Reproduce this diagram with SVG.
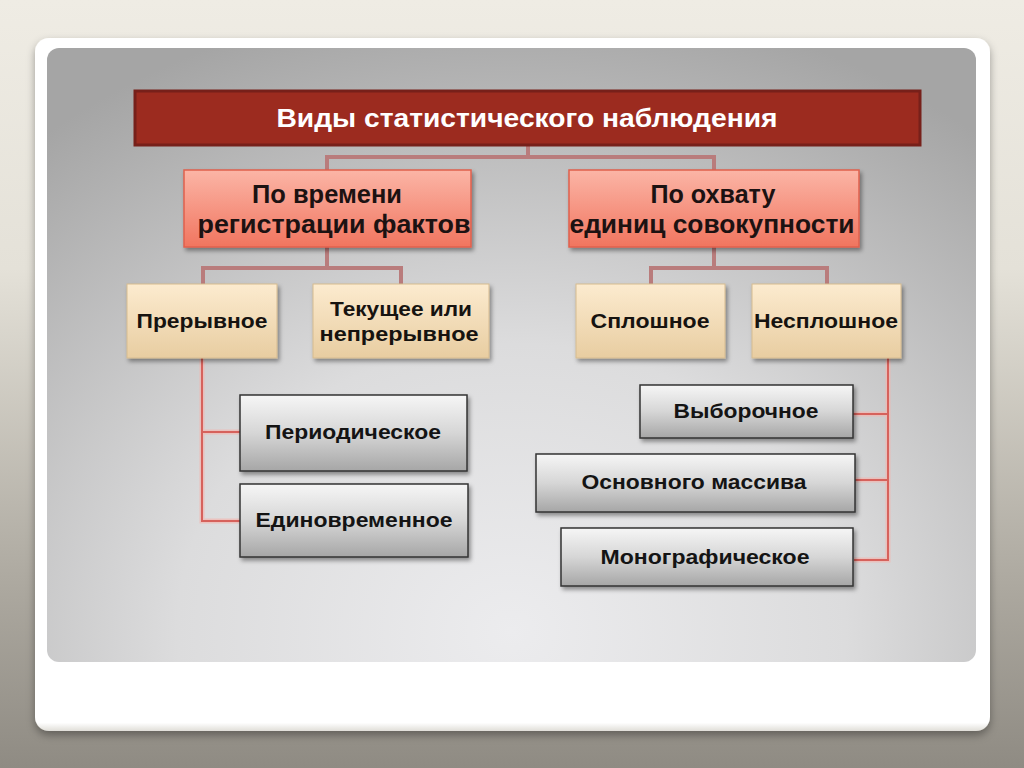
<svg xmlns="http://www.w3.org/2000/svg" width="1024" height="768" viewBox="0 0 1024 768">
<defs>
<linearGradient id="bg" x1="0" y1="0" x2="0" y2="1">
<stop offset="0" stop-color="#efece4"/>
<stop offset="0.35" stop-color="#e4e1d8"/>
<stop offset="0.75" stop-color="#aeaaa1"/>
<stop offset="1" stop-color="#8f8b83"/>
</linearGradient>
<radialGradient id="panel" cx="0.5" cy="0.95" r="0.8" gradientTransform="translate(0.5 0.95) scale(1 1.3) translate(-0.5 -0.95)">
<stop offset="0" stop-color="#ececee"/>
<stop offset="0.45" stop-color="#dcdcdd"/>
<stop offset="1" stop-color="#a5a5a5"/>
</radialGradient>
<linearGradient id="g2" x1="0" y1="0" x2="0" y2="1">
<stop offset="0" stop-color="#fbb5a6"/>
<stop offset="1" stop-color="#f1755f"/>
</linearGradient>
<linearGradient id="g3" x1="0" y1="0" x2="0" y2="1">
<stop offset="0" stop-color="#fcebcf"/>
<stop offset="1" stop-color="#e8cda1"/>
</linearGradient>
<linearGradient id="g4" x1="0" y1="0" x2="0" y2="1">
<stop offset="0" stop-color="#f6f6f6"/>
<stop offset="0.5" stop-color="#d6d6d6"/>
<stop offset="1" stop-color="#a6a6a6"/>
</linearGradient>
<linearGradient id="cardedge" x1="0" y1="0" x2="0" y2="1">
<stop offset="0" stop-color="#ffffff"/>
<stop offset="0.988" stop-color="#ffffff"/>
<stop offset="1" stop-color="#e0ded8"/>
</linearGradient>
<filter id="sh" x="-10%" y="-10%" width="125%" height="135%">
<feDropShadow dx="2" dy="3" stdDeviation="2" flood-color="#000" flood-opacity="0.4"/>
</filter>
<filter id="cardsh" x="-5%" y="-5%" width="110%" height="112%">
<feDropShadow dx="0" dy="4" stdDeviation="4" flood-color="#000" flood-opacity="0.35"/>
</filter>
</defs>
<style>
text{font-family:"Liberation Sans",Arial,sans-serif;font-weight:bold;text-anchor:middle;}
.t1{fill:#ffffff;font-size:26px;}
.t2{fill:#1c1212;font-size:25px;}
.t3{fill:#161310;font-size:20px;}
.t4{fill:#141414;font-size:20px;}
.b2{fill:url(#g2);stroke:#e0604c;stroke-width:1.5;filter:url(#sh);}
.b3{fill:url(#g3);stroke:#d6bb90;stroke-width:1;filter:url(#sh);}
.b4{fill:url(#g4);stroke:#333333;stroke-width:1.5;filter:url(#sh);}
.c1{fill:none;stroke:#b97c7c;stroke-width:4;}
.c2h{fill:none;stroke:#f2b7b0;stroke-width:5;opacity:0.7;}
.c2{fill:none;stroke:#d6625c;stroke-width:2;}
</style>
<rect x="0" y="0" width="1024" height="768" fill="url(#bg)"/>
<rect x="35" y="38" width="955" height="693" rx="14" fill="url(#cardedge)" filter="url(#cardsh)"/>
<rect x="47" y="48" width="929" height="614" rx="12" fill="url(#panel)"/>

<g id="connectors">
<path class="c1" d="M528 146 V157 M327 170 V157 H714 V170"/>
<path class="c1" d="M327 247 V268 M203 284 V268 H401 V284"/>
<path class="c1" d="M714 247 V268 M651 284 V268 H827 V284"/>
<path class="c2h" d="M202 358 V521 H240 M202 432 H240"/>
<path class="c2" d="M202 358 V521 H240 M202 432 H240"/>
<path class="c2h" d="M888 358 V560 H854 M888 414 H853 M888 480 H855"/>
<path class="c2" d="M888 358 V560 H854 M888 414 H853 M888 480 H855"/>
</g>

<g id="title">
<rect x="135" y="91" width="785" height="54" fill="#9c2b1f" stroke="#77201a" stroke-width="3"/>
<text class="t1" x="527" y="127" textLength="501" lengthAdjust="spacingAndGlyphs">Виды статистического наблюдения</text>
</g>

<g id="by-time">
<rect class="b2" x="184" y="170" width="287" height="77"/>
<text class="t2" x="327" y="203" textLength="150" lengthAdjust="spacingAndGlyphs">По времени</text>
<text class="t2" x="334" y="233" textLength="273" lengthAdjust="spacingAndGlyphs">регистрации фактов</text>
</g>

<g id="by-coverage">
<rect class="b2" x="569" y="170" width="290" height="77"/>
<text class="t2" x="713" y="203" textLength="125" lengthAdjust="spacingAndGlyphs">По охвату</text>
<text class="t2" x="712" y="233" textLength="285" lengthAdjust="spacingAndGlyphs">единиц совокупности</text>
</g>

<g id="discontinuous">
<rect class="b3" x="127" y="284" width="150" height="74"/>
<text class="t3" x="202" y="328" textLength="131" lengthAdjust="spacingAndGlyphs">Прерывное</text>
</g>

<g id="continuous">
<rect class="b3" x="313" y="284" width="176" height="74"/>
<text class="t3" x="401" y="316" textLength="142" lengthAdjust="spacingAndGlyphs">Текущее или</text>
<text class="t3" x="399" y="341" textLength="159" lengthAdjust="spacingAndGlyphs">непрерывное</text>
</g>

<g id="complete">
<rect class="b3" x="576" y="284" width="149" height="74"/>
<text class="t3" x="650" y="328" textLength="119" lengthAdjust="spacingAndGlyphs">Сплошное</text>
</g>

<g id="incomplete">
<rect class="b3" x="752" y="284" width="149" height="74"/>
<text class="t3" x="826" y="328" textLength="144" lengthAdjust="spacingAndGlyphs">Несплошное</text>
</g>

<g id="periodic">
<rect class="b4" x="240" y="395" width="227" height="76"/>
<text class="t4" x="353" y="439" textLength="176" lengthAdjust="spacingAndGlyphs">Периодическое</text>
</g>

<g id="one-time">
<rect class="b4" x="240" y="484" width="228" height="73"/>
<text class="t4" x="354" y="527" textLength="197" lengthAdjust="spacingAndGlyphs">Единовременное</text>
</g>

<g id="sample">
<rect class="b4" x="640" y="385" width="213" height="53"/>
<text class="t4" x="746" y="418" textLength="145" lengthAdjust="spacingAndGlyphs">Выборочное</text>
</g>

<g id="main-array">
<rect class="b4" x="536" y="454" width="319" height="58"/>
<text class="t4" x="694" y="489" textLength="225" lengthAdjust="spacingAndGlyphs">Основного массива</text>
</g>

<g id="monographic">
<rect class="b4" x="561" y="528" width="292" height="58"/>
<text class="t4" x="705" y="564" textLength="209" lengthAdjust="spacingAndGlyphs">Монографическое</text>
</g>
</svg>
